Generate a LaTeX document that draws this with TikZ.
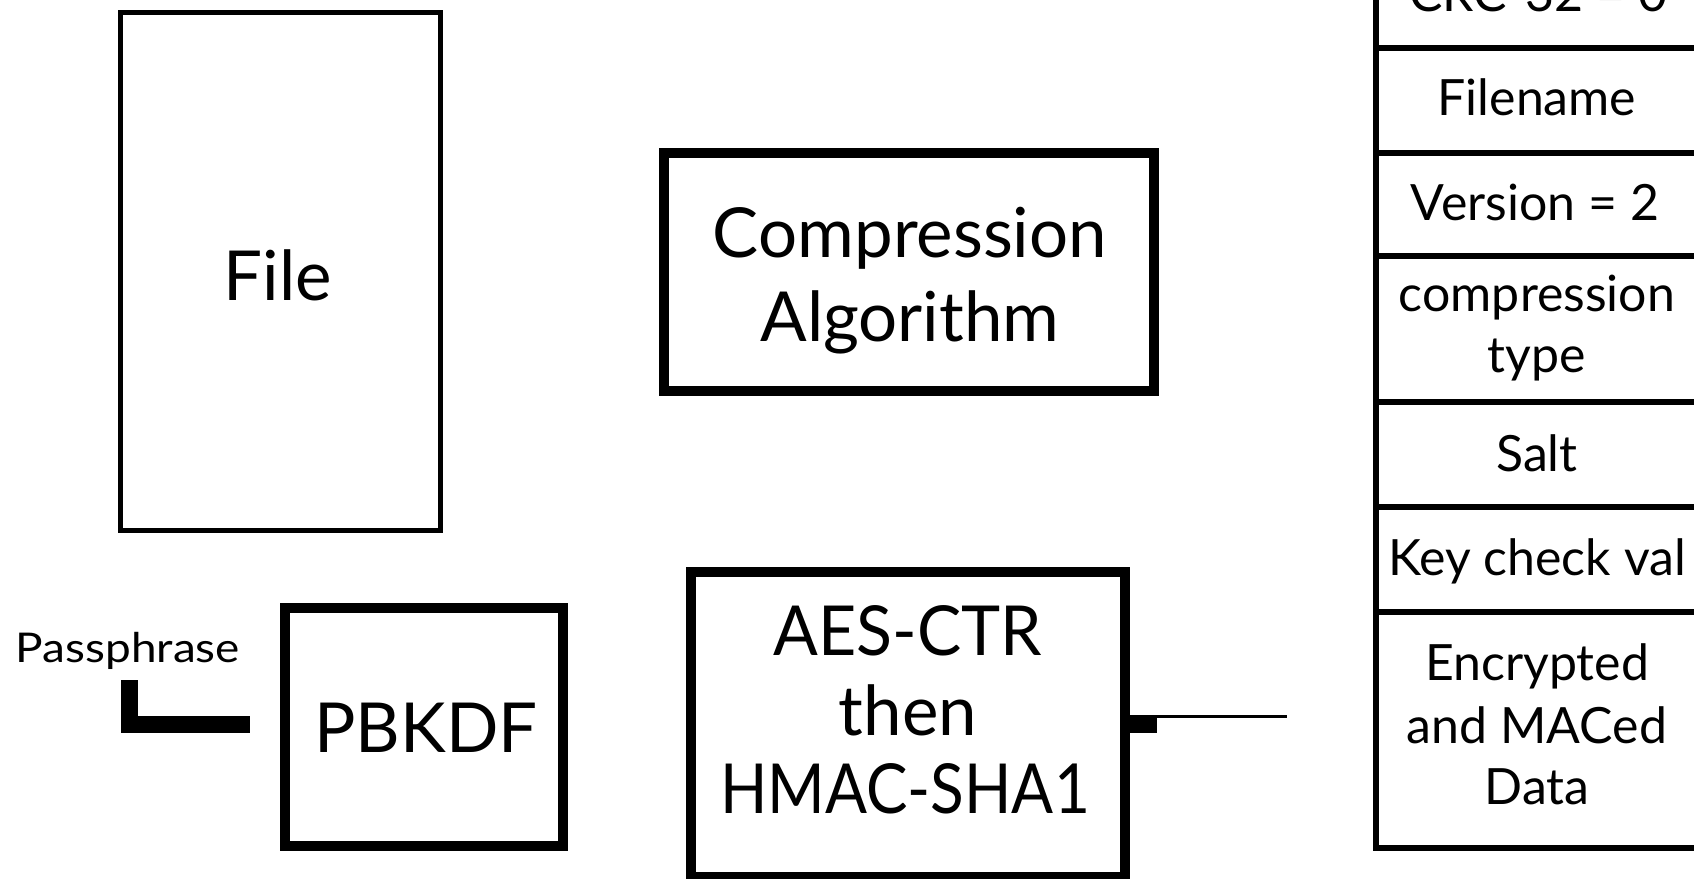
\documentclass[tikz,border=0pt]{standalone}
\usepackage{fontspec}
\setmainfont{Lato}
\begin{document}
\begin{tikzpicture}[x=1pt,y=-1pt,
  box/.style={draw=black, line width=10pt, inner sep=0pt, outer sep=0pt},
  cell/.style={draw=black, line width=6pt, inner sep=0pt, minimum width=324.5pt},
  big/.style={anchor=base, inner sep=0pt, font=\fontsize{69}{80}\selectfont},
  tab/.style={anchor=base, inner sep=0pt, font=\fontsize{50}{60}\selectfont},
  small/.style={anchor=base, inner sep=0pt, font=\fontsize{41}{48}\selectfont}]
\useasboundingbox (0,0) rectangle (1694,878);
\clip (0,0) rectangle (1694,878);
% boxes
\node[box, line width=5pt, minimum width=320pt, minimum height=518pt] (file) at (280.5,271) {};
\node[box, minimum width=490pt, minimum height=238pt] (comp) at (909,272) {};
\node[box, minimum width=278pt, minimum height=238pt] (pbkdf) at (424,727) {};
\node[box, minimum width=434pt, minimum height=305pt] (aes) at (908,724.5) {};
% table cells
\node[cell, minimum height=105pt] (crc) at (1537.75,-4.5) {};
\node[cell, minimum height=105pt] (fname) at (1537.75,100.5) {};
\node[cell, minimum height=103pt] (ver) at (1537.75,204.5) {};
\node[cell, minimum height=146pt] (ctype) at (1537.75,329) {};
\node[cell, minimum height=105pt] (salt) at (1537.75,454.5) {};
\node[cell, minimum height=105pt] (kcv) at (1537.75,559.5) {};
\node[cell, minimum height=236pt] (data) at (1537.75,730) {};
% texts
\node[big] (tfile) at (278,300) {File};
\node[big] (tcomp1) at (910,257) {Compression};
\node[big] (tcomp2) at (910,341) {Algorithm};
\node[big] (tpbkdf) at (426,752) {PBKDF};
\node[big] (taes1) at (908,655) {\scalebox{0.96}[1]{AES-CTR}};
\node[big] (taes2) at (908,735) {then};
\node[big] (taes3) at (905,813) {\scalebox{0.9}[1]{HMAC-SHA1}};
\node[small] (pass) at (128,662) {\scalebox{1.12}[1]{Passphrase}};
\node[tab] (tcrc) at (1538,12) {CRC-32 = 0};
\node[tab] (tfname) at (1537,115) {Filename};
\node[tab] (tver) at (1535,220) {Version = 2};
\node[tab] (tct1) at (1537,311) {compression};
\node[tab] (tct2) at (1537,372) {type};
\node[tab] (tsalt) at (1537,471.5) {Salt};
\node[tab] (tkcv) at (1537,575) {Key check val};
\node[tab] (td1) at (1537,680) {Encrypted};
\node[tab] (td2) at (1537,743) {and MACed};
\node[tab] (td3) at (1537,804) {Data};
% connectors
\coordinate (pstart) at (129.5,680);
\coordinate (pend) at (250,724);
\draw[line width=17pt, miter limit=10] (pstart) |- (pend);
\fill[black] (aes.east |- 715,715) rectangle (1157,733);
\coordinate (lstart) at (1157,716.5);
\coordinate (lend) at (1287,716.5);
\draw[line width=2.5pt] (lstart) -- (lend);
\end{tikzpicture}
\end{document}
